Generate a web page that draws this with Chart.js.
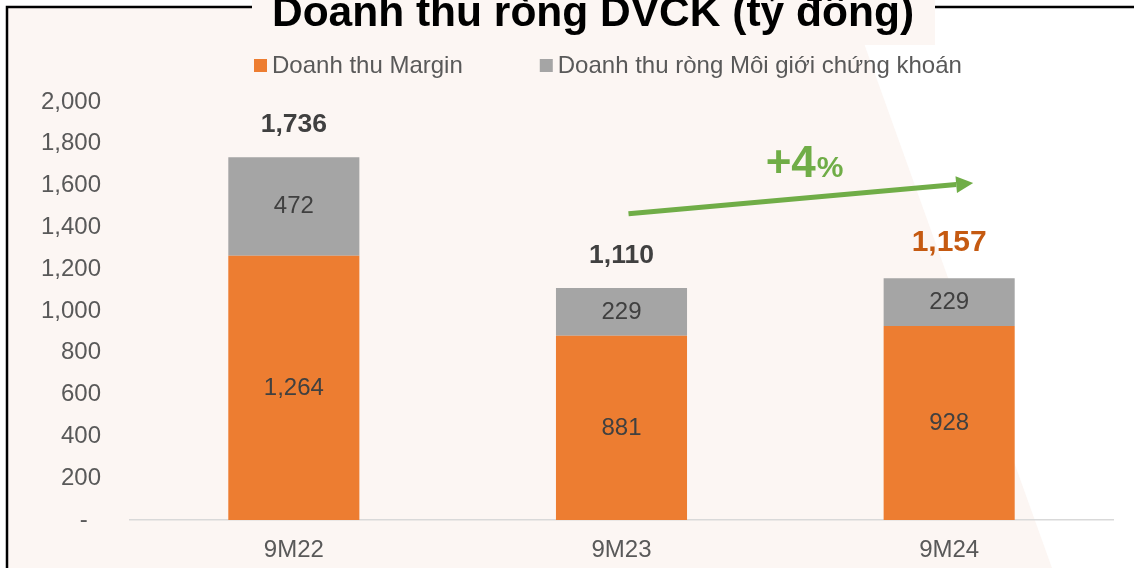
<!DOCTYPE html>
<html>
<head>
<meta charset="utf-8">
<script src="https://cdn.jsdelivr.net/npm/chart.js@4"></script>
<style>
html, body { margin: 0; padding: 0; background: #fff; }
</style>
</head>
<body>
<canvas id="barChart" width="1134" height="568"></canvas>
<script>
const chartTitle = 'Doanh thu ròng DVCK (tỷ đồng)';
const categories = ['9M22', '9M23', '9M24'];
const seriesNames = ['Doanh thu Margin', 'Doanh thu ròng Môi giới chứng khoán'];
const marginValues = [1264, 881, 928];
const brokerValues = [472, 229, 229];
const yTickValues = [0, 200, 400, 600, 800, 1000, 1200, 1400, 1600, 1800, 2000];
const growthText = '+4';

const FONT = '"Liberation Sans", Arial, sans-serif';
const PINK = '#fcf6f3';
const fmt = v => v.toLocaleString('en-US');

// background, frame and the title that sits on the frame line
const frame = {
    id: 'frame',
    beforeDraw(chart) {
        const ctx = chart.ctx;
        ctx.save();
        ctx.fillStyle = '#fff';
        ctx.fillRect(0, 0, chart.width, chart.height);
        ctx.fillStyle = PINK;
        ctx.beginPath();
        ctx.moveTo(8, 7);
        ctx.lineTo(851, 7);
        ctx.lineTo(1052, 568);
        ctx.lineTo(8, 568);
        ctx.closePath();
        ctx.fill();
        ctx.strokeStyle = '#000';
        ctx.lineWidth = 2.5;
        ctx.beginPath();
        ctx.moveTo(7, 568);
        ctx.lineTo(7, 7);
        ctx.lineTo(1134, 7);
        ctx.stroke();
        ctx.fillStyle = PINK;
        ctx.fillRect(252, 0, 683, 45);
        ctx.fillStyle = '#000';
        ctx.font = 'bold 42.5px ' + FONT;
        ctx.textAlign = 'center';
        ctx.textBaseline = 'alphabetic';
        ctx.fillText(chartTitle, 593, 26);
        ctx.restore();
    }
};

const legendRow = {
    id: 'legendRow',
    afterDraw(chart) {
        const ctx = chart.ctx;
        ctx.save();
        ctx.font = '24px ' + FONT;
        ctx.textBaseline = 'middle';
        ctx.textAlign = 'left';
        let x = 254;
        chart.data.datasets.forEach(ds => {
            ctx.fillStyle = ds.backgroundColor;
            ctx.fillRect(x, 59, 13, 13);
            ctx.fillStyle = '#595959';
            ctx.fillText(ds.label, x + 18, 66);
            x += 18 + ctx.measureText(ds.label).width + 77;
        });
        ctx.restore();
    }
};

const valueLabels = {
    id: 'valueLabels',
    afterDatasetsDraw(chart) {
        const ctx = chart.ctx;
        ctx.save();
        ctx.textAlign = 'center';
        ctx.textBaseline = 'middle';
        ctx.font = '24px ' + FONT;
        ctx.fillStyle = '#404040';
        chart.data.datasets.forEach((ds, di) => {
            chart.getDatasetMeta(di).data.forEach((bar, i) => {
                ctx.fillText(fmt(ds.data[i]), bar.x, (bar.y + bar.base) / 2);
            });
        });
        // totals, the latest one highlighted
        const top = chart.getDatasetMeta(chart.data.datasets.length - 1).data;
        categories.forEach((c, i) => {
            const total = marginValues[i] + brokerValues[i];
            const last = i === categories.length - 1;
            ctx.font = 'bold ' + (last ? 30 : 26.5) + 'px ' + FONT;
            ctx.fillStyle = last ? '#c55a11' : '#404040';
            ctx.fillText(fmt(total), top[i].x, top[i].y - (last ? 35 : 32));
        });

        // growth arrow
        const xs = chart.scales.x, ys = chart.scales.y;
        const x0 = xs.getPixelForValue(1) + 7, y0 = ys.getPixelForValue(1465);
        const x1 = xs.getPixelForValue(2) + 24, y1 = ys.getPixelForValue(1612);
        const ang = Math.atan2(y1 - y0, x1 - x0);
        const head = 17;
        const green = '#70ad47';
        ctx.strokeStyle = green;
        ctx.fillStyle = green;
        ctx.lineWidth = 5;
        ctx.beginPath();
        ctx.moveTo(x0, y0);
        ctx.lineTo(x1 - head * Math.cos(ang), y1 - head * Math.sin(ang));
        ctx.stroke();
        ctx.beginPath();
        ctx.moveTo(x1, y1);
        ctx.lineTo(x1 - head * Math.cos(ang) + 8.5 * Math.sin(ang), y1 - head * Math.sin(ang) - 8.5 * Math.cos(ang));
        ctx.lineTo(x1 - head * Math.cos(ang) - 8.5 * Math.sin(ang), y1 - head * Math.sin(ang) + 8.5 * Math.cos(ang));
        ctx.closePath();
        ctx.fill();
        const mx = (x0 + x1) / 2 + 15;
        ctx.textBaseline = 'alphabetic';
        ctx.textAlign = 'right';
        ctx.font = 'bold 44px ' + FONT;
        ctx.fillText(growthText, mx, 177);
        ctx.textAlign = 'left';
        ctx.font = 'bold 30px ' + FONT;
        ctx.fillText('%', mx + 1, 177);
        ctx.restore();
    }
};

new Chart(document.getElementById('barChart'), {
    type: 'bar',
    data: {
        labels: categories,
        datasets: [{
            label: seriesNames[0],
            data: marginValues,
            backgroundColor: '#ed7d31'
        }, {
            label: seriesNames[1],
            data: brokerValues,
            backgroundColor: '#a5a5a5'
        }]
    },
    options: {
        responsive: false,
        animation: false,
        layout: { padding: { top: 102, left: 10, right: 21, bottom: 0 } },
        datasets: { bar: { barPercentage: 0.4, categoryPercentage: 1 } },
        plugins: {
            legend: { display: false },
            title: { display: false },
            tooltip: { enabled: false }
        },
        scales: {
            x: {
                stacked: true,
                grid: { display: false, drawTicks: false },
                border: { color: '#d9d9d9', width: 1.5 },
                ticks: { color: '#595959', font: { family: FONT, size: 24 }, padding: 16 },
                afterFit: s => { s.height = 48; }
            },
            y: {
                stacked: true,
                min: 0,
                max: 2000,
                grid: { display: false, drawTicks: false },
                border: { display: false },
                afterBuildTicks: s => { s.ticks = yTickValues.map(v => ({ value: v })); },
                ticks: {
                    color: '#595959',
                    font: { family: FONT, size: 24 },
                    padding: 29,
                    callback: v => v === 0 ? '-  ' : fmt(v)
                },
                afterFit: s => { s.width = 120; }
            }
        }
    },
    plugins: [frame, legendRow, valueLabels]
});
</script>
</body>
</html>
